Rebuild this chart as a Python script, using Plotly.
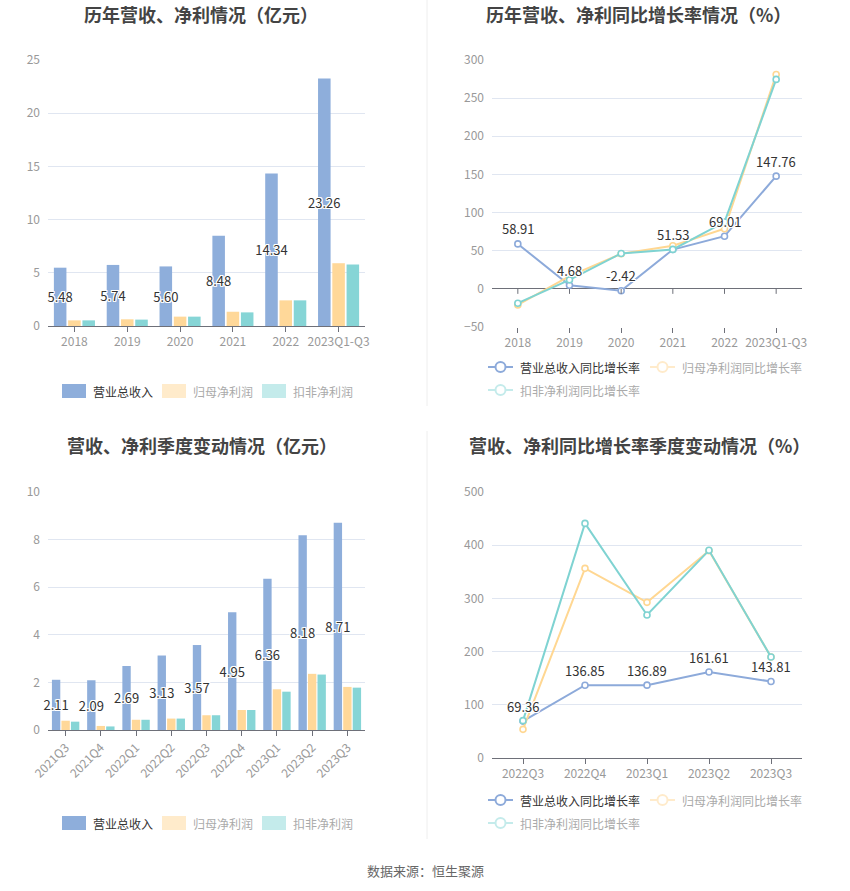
import plotly.graph_objects as go

# ---------------- data ----------------
years = ["2018", "2019", "2020", "2021", "2022", "2023Q1-Q3"]
rev_year = [5.48, 5.74, 5.60, 8.48, 14.34, 23.26]
np_year = [0.53, 0.63, 0.88, 1.34, 2.41, 5.90]
npd_year = [0.53, 0.60, 0.88, 1.28, 2.41, 5.78]

rev_yoy_year = [58.91, 4.68, -2.42, 51.53, 69.01, 147.76]
np_yoy_year = [-21.0, 16.6, 46.0, 56.5, 78.8, 281.0]
npd_yoy_year = [-18.8, 11.8, 46.4, 51.7, 87.6, 274.6]

quarters = ["2021Q3", "2021Q4", "2022Q1", "2022Q2", "2022Q3", "2022Q4", "2023Q1", "2023Q2", "2023Q3"]
rev_q = [2.11, 2.09, 2.69, 3.13, 3.57, 4.95, 6.36, 8.18, 8.71]
np_q = [0.39, 0.17, 0.43, 0.48, 0.62, 0.84, 1.71, 2.36, 1.81]
npd_q = [0.35, 0.15, 0.43, 0.48, 0.62, 0.84, 1.61, 2.33, 1.78]

quarters_yoy = ["2022Q3", "2022Q4", "2023Q1", "2023Q2", "2023Q3"]
rev_yoy_q = [69.36, 136.85, 136.89, 161.61, 143.81]
np_yoy_q = [53.9, 356.5, 292.6, 389.7, 189.8]
npd_yoy_q = [70.2, 441.0, 268.8, 390.4, 189.8]

bar_names = ["营业总收入", "归母净利润", "扣非净利润"]
line_names = ["营业总收入同比增长率", "归母净利润同比增长率", "扣非净利润同比增长率"]
titles = ["历年营收、净利情况（亿元）", "历年营收、净利同比增长率情况（%）",
          "营收、净利季度变动情况（亿元）", "营收、净利同比增长率季度变动情况（%）"]
source = "数据来源：恒生聚源"

# ---------------- style ----------------
W, H = 850, 891
FONT = "Noto Sans CJK SC"
C_BLUE, C_ORANGE, C_TEAL = "#8EAEDB", "#FFD899", "#86D5D6"
L_BLUE, L_ORANGE, L_TEAL = "#8DAADA", "#FFD792", "#7FD3D2"
F_ORANGE, F_TEAL = "#FFEBCB", "#C4EBEB"
GRID = "#E0E6F1"
AXIS = "#6E7079"
TICKC = "#999999"
HALO = "1px 1px 0 #fff, -1px -1px 0 #fff, 1px -1px 0 #fff, -1px 1px 0 #fff, 0 1px 0 #fff, 0 -1px 0 #fff, 1px 0 0 #fff, -1px 0 0 #fff"


def px(x):
    return x / W


def py(y):
    return 1 - y / H


fig = go.Figure()
annotations = []
shapes = []

# ---- bar charts ----
def add_bars(cats, rev, np_, npd, xa, ya):
    fig.add_trace(go.Bar(x=cats, y=rev, name=bar_names[0], marker=dict(color=C_BLUE, line=dict(width=0)),
                         text=[f"{v:.2f}" for v in rev], textposition="inside",
                         insidetextanchor="middle", constraintext="none", textangle=0,
                         textfont=dict(size=13, color="#333", family=FONT, shadow=HALO),
                         xaxis=xa, yaxis=ya, showlegend=False, cliponaxis=False))
    fig.add_trace(go.Bar(x=cats, y=np_, name=bar_names[1], marker=dict(color=C_ORANGE, line=dict(width=0)),
                         xaxis=xa, yaxis=ya, showlegend=False))
    fig.add_trace(go.Bar(x=cats, y=npd, name=bar_names[2], marker=dict(color=C_TEAL, line=dict(width=0)),
                         xaxis=xa, yaxis=ya, showlegend=False))


def add_lines(cats, rev, np_, npd, xa, ya):
    mk = lambda c: dict(symbol="circle", size=6, color="white", line=dict(color=c, width=1.6))
    fig.add_trace(go.Scatter(x=cats, y=rev, mode="lines+markers", name=line_names[0],
                             line=dict(color=L_BLUE, width=2), marker=mk(L_BLUE),
                             xaxis=xa, yaxis=ya, showlegend=False, cliponaxis=False))
    fig.add_trace(go.Scatter(x=cats, y=np_, mode="lines+markers", name=line_names[1],
                             line=dict(color=L_ORANGE, width=2), marker=mk(L_ORANGE),
                             xaxis=xa, yaxis=ya, showlegend=False, cliponaxis=False))
    fig.add_trace(go.Scatter(x=cats, y=npd, mode="lines+markers", name=line_names[2],
                             line=dict(color=L_TEAL, width=2), marker=mk(L_TEAL),
                             xaxis=xa, yaxis=ya, showlegend=False, cliponaxis=False))
    # value labels (category index used as x so numeric-looking categories resolve correctly)
    for i, v in enumerate(rev):
        annotations.append(dict(text=f"{v:.2f}", x=i, y=v, xref=xa, yref=ya, showarrow=False,
                                xanchor="center", yanchor="middle", yshift=15,
                                font=dict(size=13, color="#333", family=FONT, shadow=HALO)))


add_bars(years, rev_year, np_year, npd_year, "x", "y")
add_lines(years, rev_yoy_year, np_yoy_year, npd_yoy_year, "x2", "y2")
add_bars(quarters, rev_q, np_q, npd_q, "x3", "y3")
add_lines(quarters_yoy, rev_yoy_q, np_yoy_q, npd_yoy_q, "x4", "y4")

# ---- axes ----
tickfont = dict(size=12, color=TICKC, family=FONT)
xcommon = dict(type="category", showgrid=False, tickfont=tickfont, ticks="outside",
               ticklen=5, tickcolor=AXIS, zeroline=False, fixedrange=True, automargin=False)
ycommon = dict(showgrid=True, gridcolor=GRID, gridwidth=1, tickfont=tickfont,
               showline=False, ticks="", zeroline=False, automargin=False, ticklabelstandoff=7)

TLx = [px(48), px(365)]
TRx = [px(492), px(802)]

fig.update_layout(
    template="none",
    xaxis=dict(**xcommon, domain=TLx, anchor="y", showline=True, linecolor=AXIS,
               range=[-0.5, len(years) - 0.5]),
    yaxis=dict(**ycommon, domain=[py(326), py(60)], anchor="x", range=[0, 25], dtick=5),
    xaxis2=dict(**xcommon, domain=TRx, anchor="y2", showline=False,
                range=[-0.5, len(years) - 0.5]),
    yaxis2=dict(showgrid=True, gridcolor=GRID, tickfont=tickfont, showline=False, ticks="",
                domain=[py(327), py(60)], anchor="x2", range=[-50, 300], dtick=50,
                zeroline=True, zerolinecolor=AXIS, zerolinewidth=1, automargin=False,
                ticklabelstandoff=7),
    xaxis3=dict(**xcommon, domain=TLx, anchor="y3", showline=True, linecolor=AXIS,
                tickangle=-45, range=[-0.5, len(quarters) - 0.5]),
    yaxis3=dict(**ycommon, domain=[py(730), py(492)], anchor="x3", range=[0, 10], dtick=2),
    xaxis4=dict(**xcommon, domain=TRx, anchor="y4", showline=True, linecolor=AXIS,
                range=[-0.5, len(quarters_yoy) - 0.5]),
    yaxis4=dict(**ycommon, domain=[py(758), py(492)], anchor="x4", range=[0, 500], dtick=100),
)

fig.update_layout(
    width=W, height=H, margin=dict(l=0, r=0, t=0, b=0, pad=0, autoexpand=False),
    paper_bgcolor="white", plot_bgcolor="white",
    barmode="group", bargap=0.19, bargroupgap=0.12,
    font=dict(family=FONT, color="#333"),
    showlegend=False,
)

# tick marks on the zero line of the top-right chart
for i in range(len(years)):
    shapes.append(dict(type="line", xref="x2", yref="y2", x0=i, x1=i, y0=0, y1=-5,
                       ysizemode="pixel", yanchor=0, line=dict(color=AXIS, width=1)))

# titles
for text, cx, cy in [(titles[0], 201, 14), (titles[1], 638, 14),
                     (titles[2], 202, 445), (titles[3], 639, 445)]:
    annotations.append(dict(text=f"<b>{text}</b>", x=px(cx), y=py(cy), xref="paper", yref="paper",
                            showarrow=False, xanchor="center", yanchor="middle",
                            font=dict(size=18, color="#444", family=FONT)))

# dividers
shapes.append(dict(type="line", xref="paper", yref="paper", x0=px(427), x1=px(427),
                   y0=py(0), y1=py(406), line=dict(color="#EEEEEE", width=1)))
shapes.append(dict(type="line", xref="paper", yref="paper", x0=px(427), x1=px(427),
                   y0=py(431), y1=py(839), line=dict(color="#EEEEEE", width=1)))

# bar legends
def bar_legend(ycenter):
    items = [(62, C_BLUE, "#333"), (162, F_ORANGE, "#AAAAAA"), (262, F_TEAL, "#AAAAAA")]
    for (x0, col, tcol), name in zip(items, bar_names):
        shapes.append(dict(type="rect", xref="paper", yref="paper",
                           x0=px(x0), x1=px(x0 + 24), y0=py(ycenter - 7), y1=py(ycenter + 7),
                           fillcolor=col, line=dict(width=0)))
        annotations.append(dict(text=name, x=px(x0 + 29), y=py(ycenter), xref="paper", yref="paper",
                                showarrow=False, xanchor="left", yanchor="middle",
                                font=dict(size=12, color=tcol, family=FONT)))


bar_legend(391)
bar_legend(823)

# line legends
def line_legend(yrow1, yrow2):
    items = [(488, yrow1, L_BLUE, "#333"), (650, yrow1, F_ORANGE, "#AAAAAA"),
             (488, yrow2, F_TEAL, "#AAAAAA")]
    for (x0, yc, col, tcol), name in zip(items, line_names):
        shapes.append(dict(type="line", xref="paper", yref="paper",
                           x0=px(x0), x1=px(x0 + 25), y0=py(yc), y1=py(yc),
                           line=dict(color=col, width=2)))
        cx = x0 + 12.5
        shapes.append(dict(type="circle", xref="paper", yref="paper",
                           x0=px(cx - 5), x1=px(cx + 5), y0=py(yc - 5), y1=py(yc + 5),
                           fillcolor="white", line=dict(color=col, width=2)))
        annotations.append(dict(text=name, x=px(x0 + 30), y=py(yc), xref="paper", yref="paper",
                                showarrow=False, xanchor="left", yanchor="middle",
                                font=dict(size=12, color=tcol, family=FONT)))


line_legend(367, 390)
line_legend(800, 823)

# source
annotations.append(dict(text=source, x=px(425), y=py(870), xref="paper", yref="paper",
                        showarrow=False, xanchor="center", yanchor="middle",
                        font=dict(size=13, color="#666", family=FONT)))

fig.update_layout(shapes=shapes, annotations=annotations)

fig.write_html("out.html", config={"displayModeBar": False},
               post_script="document.body.style.margin='0';")
